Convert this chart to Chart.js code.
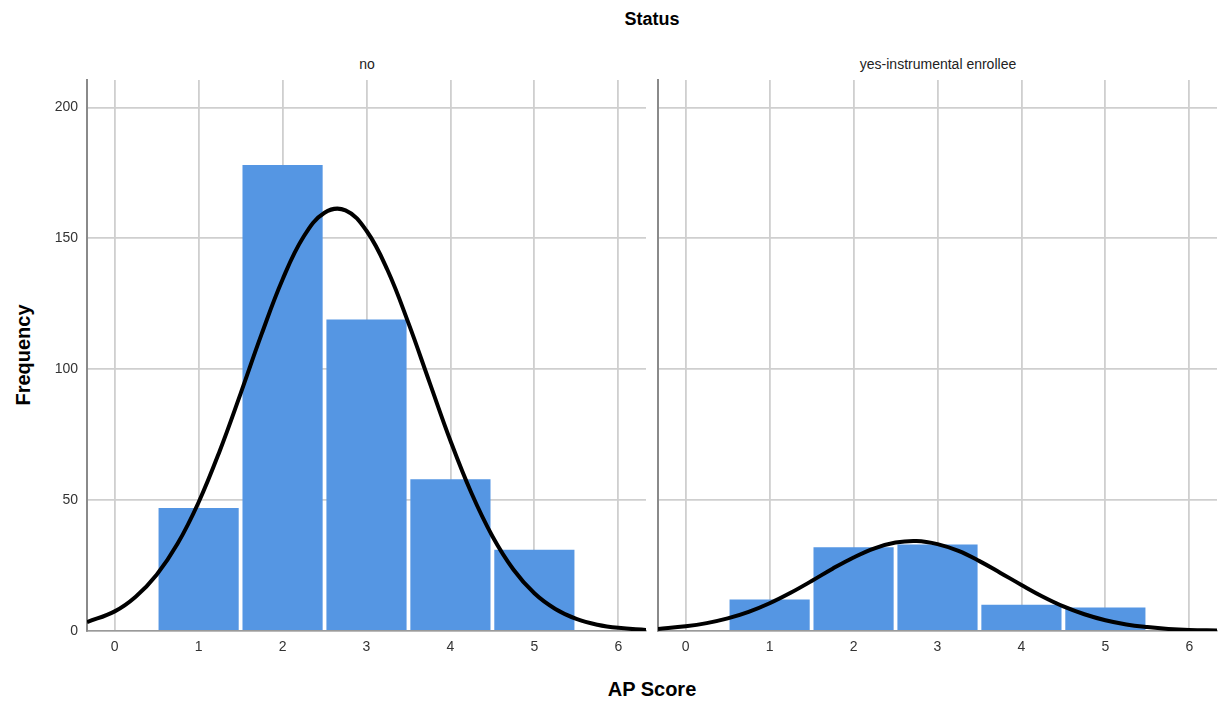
<!DOCTYPE html>
<html>
<head>
<meta charset="utf-8">
<script src="https://cdn.jsdelivr.net/npm/chart.js@4.4.1/dist/chart.umd.min.js"></script>
<style>
  body { margin: 0; background: #fff; width: 1219px; height: 705px; overflow: hidden; position: relative; font-family: "Liberation Sans", Arial, sans-serif; }
  canvas { position: absolute; top: 0; }
  .txt { position: absolute; color: #000; white-space: nowrap; transform: translate(-50%, -50%); }
  .bold { font-weight: bold; font-size: 20px; }
  .panel { font-size: 14px; color: #222; }
</style>
</head>
<body>
<div class="txt bold" style="left:652px; top:19px; font-size:18px;">Status</div>
<div class="txt panel" style="left:367px; top:64px;">no</div>
<div class="txt panel" style="left:938px; top:64px;">yes-instrumental enrollee</div>
<div class="txt bold" style="left:23px; top:355px; transform: translate(-50%, -50%) rotate(-90deg);">Frequency</div>
<div class="txt bold" style="left:652px; top:689px;">AP Score</div>

<canvas id="painelNo" width="650" height="705" style="left:0px;"></canvas>
<canvas id="painelYes" width="569" height="705" style="left:650px;"></canvas>

<script>
// AP Score categorias (eixo x) e ticks
const apScores = [1, 2, 3, 4, 5];
const xTicks = [0, 1, 2, 3, 4, 5, 6];
const yTicks = [0, 50, 100, 150, 200];

// Frequências por status
const freqNo = [47, 178, 119, 58, 31];
const freqYes = [12, 32, 33, 10, 9];

// Curva normal (x, frequência)
const curvaX = [-0.33, 0, 0.25, 0.5, 0.75, 1, 1.25, 1.5, 1.75, 2, 2.25, 2.5, 2.75, 3, 3.25, 3.5, 3.75, 4, 4.25, 4.5, 4.75, 5, 5.25, 5.5, 5.75, 6, 6.33];
const curvaNo = [3.4, 7.5, 13.1, 21.5, 33.4, 49.2, 68.7, 90.7, 113.4, 134.3, 150.6, 159.8, 160.7, 152.9, 137.9, 117.6, 95.1, 72.7, 52.7, 36.2, 23.5, 14.4, 8.4, 4.6, 2.4, 1.2, 0.4];
const curvaYes = [0.8, 1.8, 3.0, 4.8, 7.3, 10.6, 14.6, 19.1, 23.8, 28.1, 31.6, 33.8, 34.4, 33.2, 30.6, 26.7, 22.2, 17.6, 13.2, 9.4, 6.4, 4.1, 2.5, 1.5, 0.8, 0.4, 0.2];

const corBarra = '#5596e3';
const fonte = '"Liberation Sans", Arial, sans-serif';

function criarPainel(id, freq, curva, mostrarY) {
    const ctx = document.getElementById(id).getContext('2d');
    return new Chart(ctx, {
        data: {
            datasets: [
                {
                    type: 'line',
                    data: curvaX.map((x, i) => ({ x: x, y: curva[i] })),
                    borderColor: '#000',
                    borderWidth: 4,
                    pointRadius: 0,
                    tension: 0.4,
                    fill: false,
                    order: 0
                },
                {
                    type: 'bar',
                    data: apScores.map((x, i) => ({ x: x, y: freq[i] })),
                    backgroundColor: corBarra,
                    borderWidth: 0,
                    barPercentage: 0.955,
                    categoryPercentage: 1,
                    order: 1
                }
            ]
        },
        options: {
            responsive: false,
            animation: false,
            layout: { padding: { top: 80, right: mostrarY ? 4 : 2, left: 0, bottom: 0 } },
            plugins: { legend: { display: false }, tooltip: { enabled: false } },
            scales: {
                x: {
                    type: 'linear',
                    offset: false,
                    min: -0.33,
                    max: 6.33,
                    afterBuildTicks: s => { s.ticks = xTicks.map(v => ({ value: v })); },
                    afterFit: s => { s.height = 74; },
                    grid: { offset: false, color: '#cfcfcf', lineWidth: 1.8, drawTicks: false },
                    border: { color: '#9a9a9a', width: 1.5 },
                    ticks: { color: '#333', font: { family: fonte, size: 14 }, padding: 8 }
                },
                y: {
                    min: 0,
                    max: 210.5,
                    afterBuildTicks: s => { s.ticks = yTicks.map(v => ({ value: v })); },
                    afterFit: s => { s.width = mostrarY ? 87 : 8; },
                    grid: { color: '#cfcfcf', lineWidth: 1.8, drawTicks: false },
                    border: { color: '#8a8a8a', width: 2 },
                    ticks: { display: mostrarY, color: '#333', font: { family: fonte, size: 14 }, padding: 9 }
                }
            }
        }
    });
}

criarPainel('painelNo', freqNo, curvaNo, true);
criarPainel('painelYes', freqYes, curvaYes, false);
</script>
</body>
</html>
